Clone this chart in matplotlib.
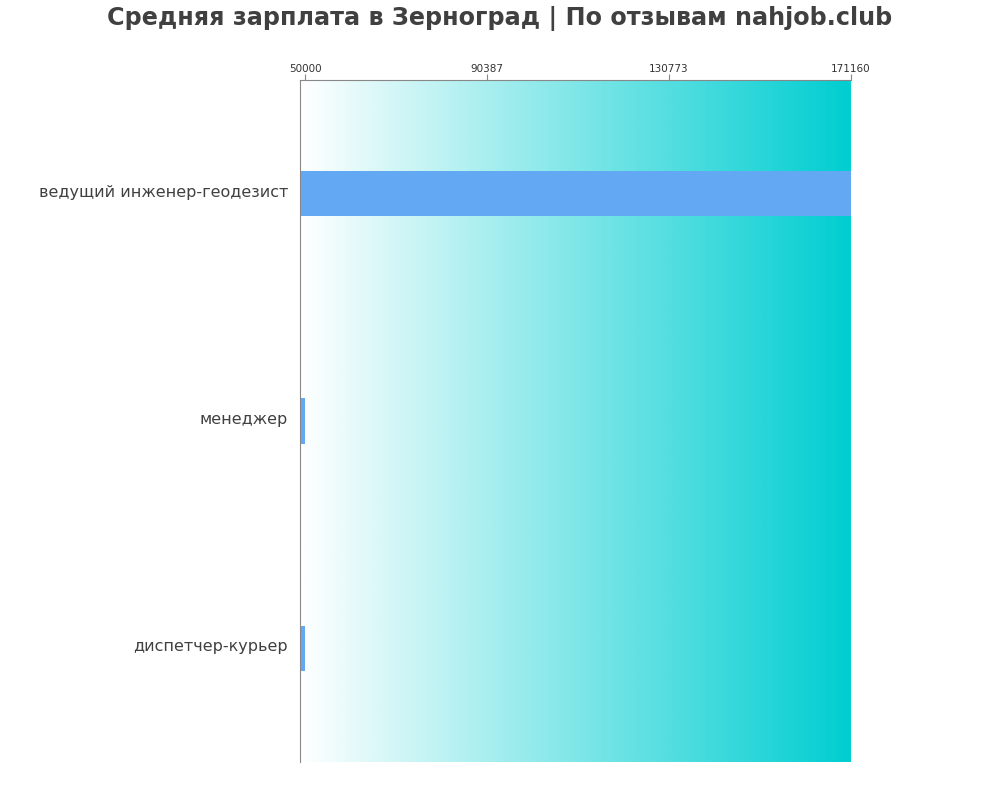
import matplotlib
matplotlib.use("Agg")
import matplotlib.pyplot as plt
import matplotlib.transforms as mtransforms
import numpy as np
from matplotlib.colors import LinearSegmentedColormap

categories = ["ведущий инженер-геодезист", "менеджер", "диспетчер-курьер"]
values = [171160, 50000, 50000]
tick_values = [50000, 90387, 130773, 171160]
title = "Средняя зарплата в Зерноград | По отзывам nahjob.club"

plt.rcParams['font.family'] = ['DejaVu Sans']

fig = plt.figure(figsize=(10, 8), dpi=100)
ax = fig.add_axes([0.3, 0.0475, 0.551, 0.8525])

xmin, xmax = 48822, 171160
ax.set_xlim(xmin, xmax)
ax.set_ylim(len(categories) - 0.5, -0.5)

cmap = LinearSegmentedColormap.from_list("g", ["#ffffff", "#00CED1"])
grad = np.linspace(0, 1, 512).reshape(1, -1)
ax.imshow(grad, cmap=cmap, aspect='auto', extent=[xmin, xmax, len(categories) - 0.5, -0.5], zorder=0)

y = np.arange(len(categories))
ax.barh(y, values, height=0.2, color="#62A8F3", zorder=2)

ax.set_yticks(y)
ax.set_yticklabels(categories, fontsize=11.5, color="#404040")
ax.tick_params(axis='y', length=0, pad=8.5)
offset = mtransforms.ScaledTranslation(0, 3 / 100, fig.dpi_scale_trans)
for lab in ax.get_yticklabels():
    lab.set_transform(lab.get_transform() + offset)

ax.xaxis.tick_top()
ax.set_xticks(tick_values)
ax.set_xticklabels([str(v) for v in tick_values], fontsize=7.5, color="#333333")
ax.tick_params(axis='x', length=4, color="#888888", pad=0.5)

for s in ["right", "bottom"]:
    ax.spines[s].set_visible(False)
for s in ["left", "top"]:
    ax.spines[s].set_color("#888888")
    ax.spines[s].set_linewidth(0.8)

fig.text(0.5, 0.992, title, ha='center', va='top', fontsize=17.2, fontweight='bold', color="#404040")

fig.savefig("out.png", dpi=100)
